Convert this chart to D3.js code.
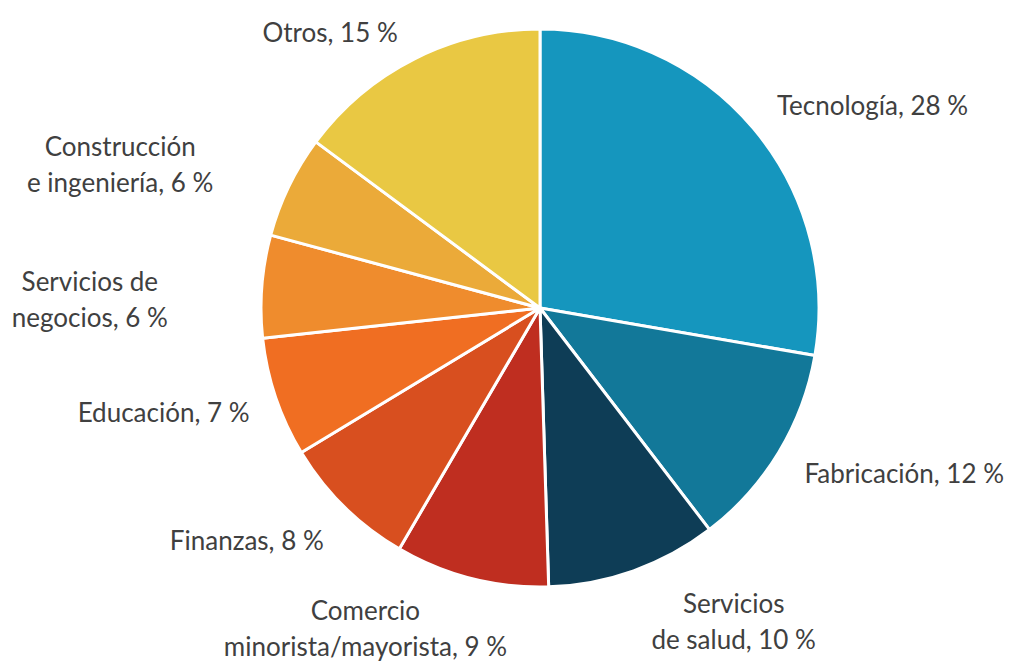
<!DOCTYPE html>
<html>
<head>
<meta charset="utf-8">
<script src="https://cdn.jsdelivr.net/npm/d3@7"></script>
<style>
  body { margin: 0; background: #fff; }
  text { font-family: Lato, "Noto Sans", sans-serif; fill: #404040; }
</style>
</head>
<body>
<div id="chart"></div>
<script>
var categories = ["Tecnología", "Fabricación", "Servicios\nde salud", "Comercio\nminorista/mayorista",
    "Finanzas", "Educación", "Servicios de\nnegocios", "Construcción\ne ingeniería", "Otros"];
var values = [28, 12, 10, 9, 8, 7, 6, 6, 15];
var colors = ["#1596be", "#127899", "#0e3d56", "#bf2e20", "#d84f1f", "#f06e22", "#ef8c2d", "#ebaa39", "#e9c843"];

// manual label nudges (px) on top of the automatic outside placement
var labelDx = [12, 13, 26, -15, -10, -12, -79, -62, -10];
var labelDy = [0, 0, 6, 5, 10, 0, 20, 16, 0];

var width = 1012, height = 662,
    cx = 540, cy = 308, radius = 279;

var svg = d3.select("#chart")
    .append("svg")
    .attr("width", width)
    .attr("height", height);

var g = svg.append("g").attr("transform", "translate(" + cx + "," + cy + ")");

var data = categories.map(function (c, i) { return { name: c, value: values[i], color: colors[i], i: i }; });

var pie = d3.pie().sort(null).value(function (d) { return d.value; });
var arc = d3.arc().innerRadius(0).outerRadius(radius);

var arcs = pie(data);

g.selectAll("path.slice")
    .data(arcs)
    .enter().append("path")
    .attr("class", "slice")
    .attr("d", arc)
    .attr("fill", function (d) { return d.data.color; })
    .attr("stroke", "#fff")
    .attr("stroke-width", 3)
    .attr("stroke-linejoin", "round");

var fontSize = 26, lineH = 36;
var clamp = function (v) { return Math.max(-1, Math.min(1, v)); };

arcs.forEach(function (d) {
    var lines = (d.data.name + ", " + d.data.value + " %").split("\n");
    var lab = g.append("text")
        .attr("font-size", fontSize)
        .attr("text-anchor", "middle");
    lines.forEach(function (l, k) {
        lab.append("tspan").attr("x", 0).attr("y", k * lineH).text(l);
    });
    var bb = lab.node().getBBox();
    var w = bb.width, h = (lines.length - 1) * lineH + 26;
    var a = (d.startAngle + d.endAngle) / 2;
    var r = radius + 15;
    var ax = Math.sin(a) * r, ay = -Math.cos(a) * r;
    var mx = ax + clamp(Math.sin(a) * 2.5) * w / 2 + labelDx[d.data.i];
    var my = ay + clamp(-Math.cos(a) * 2.5) * h / 2 + labelDy[d.data.i];
    // first baseline so the block is vertically centred on my
    var y0 = my - (lines.length - 1) * lineH / 2 + fontSize * 0.36;
    lab.attr("transform", "translate(" + mx + "," + y0 + ")");
});
</script>
</body>
</html>
